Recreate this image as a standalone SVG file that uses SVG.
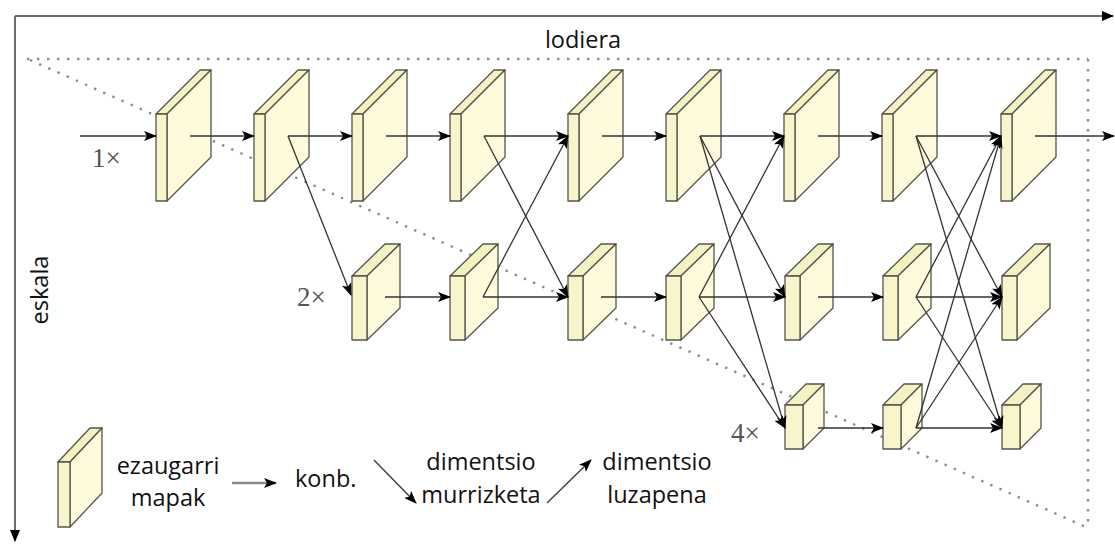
<svg xmlns="http://www.w3.org/2000/svg" width="1115" height="545" viewBox="0 0 1115 545">
  <defs>
    <style>
      .axis { stroke: #6e6e6e; stroke-width: 2; fill: none; }
      .dots { stroke: #8c8c8c; stroke-width: 2.4; stroke-dasharray: 2.4 7.6; fill: none; }
      .conn { stroke: #333; stroke-width: 1.3; fill: none; marker-end: url(#head); }
      .front { fill: #f8f5cd; stroke: #55554a; stroke-width: 1.3; stroke-linejoin: round; }
      .top { fill: #f4f1c2; stroke: #55554a; stroke-width: 1.3; stroke-linejoin: round; }
      .side { fill: #fdfbdc; stroke: #55554a; stroke-width: 1.3; stroke-linejoin: round; }
      .lbl { font-family: "Open Sans", "Liberation Sans", sans-serif; font-size: 23.5px; fill: #111; }
      .scale { font-family: "Liberation Serif", "DejaVu Serif", serif; font-size: 27px; fill: #555; }
    </style>
    <marker id="head" viewBox="0 0 13 10" refX="12" refY="5" markerWidth="13" markerHeight="10" markerUnits="userSpaceOnUse" orient="auto">
      <path d="M0,0 L13,5 L0,10 L3,5 Z" fill="#000"/>
    </marker>
    <marker id="axisHead" viewBox="0 0 12 10" refX="11" refY="5" markerWidth="12" markerHeight="10" markerUnits="userSpaceOnUse" orient="auto">
      <path d="M0,0 L12,5 L0,10 Z" fill="#000"/>
    </marker>
    <!-- feature-map slabs, origin at top-left of the front face -->
    <g id="slabL">
      <polygon class="top" points="0,0 44,-44 55,-44 11,0"/>
      <polygon class="side" points="11,0 55,-44 55,43 11,87"/>
      <rect class="front" x="0" y="0" width="11" height="87"/>
    </g>
    <g id="slabM">
      <polygon class="top" points="0,0 33,-32 48,-32 15,0"/>
      <polygon class="side" points="15,0 48,-32 48,32 15,64"/>
      <rect class="front" x="0" y="0" width="15" height="64"/>
    </g>
    <g id="slabS">
      <polygon class="top" points="0,0 21,-21 39,-21 18,0"/>
      <polygon class="side" points="18,0 39,-21 39,23 18,44"/>
      <rect class="front" x="0" y="0" width="18" height="44"/>
    </g>
    <g id="slabLegend">
      <polygon class="top" points="0,0 32,-34 44,-34 12,0"/>
      <polygon class="side" points="12,0 44,-34 44,31 12,65"/>
      <rect class="front" x="0" y="0" width="12" height="65"/>
    </g>
  </defs>

  <rect width="1115" height="545" fill="#fff"/>

  <!-- axes -->
  <g id="axes">
    <line class="axis" x1="15" y1="16" x2="1113" y2="16" marker-end="url(#axisHead)"/>
    <line class="axis" x1="15" y1="16" x2="15" y2="541" marker-end="url(#axisHead)"/>
    <text class="lbl" x="583" y="48" text-anchor="middle">lodiera</text>
    <text class="lbl" x="0" y="0" text-anchor="middle" transform="translate(48,290) rotate(-90)">eskala</text>
  </g>

  <!-- dotted triangle outline -->
  <g id="region">
    <line class="dots" x1="27" y1="59" x2="1088" y2="59"/>
    <line class="dots" x1="1088" y1="59" x2="1088" y2="527"/>
    <line class="dots" x1="30" y1="60" x2="1086" y2="527"/>
  </g>

  <!-- resolution labels -->
  <text class="scale" x="92" y="167">1×</text>
  <text class="scale" x="297" y="306">2×</text>
  <text class="scale" x="731" y="442">4×</text>

  <!-- 1x branch -->
  <g id="r1c1"><use href="#slabL" x="156" y="114"/></g>
  <g id="r1c2"><use href="#slabL" x="254" y="114"/></g>
  <g id="r1c3"><use href="#slabL" x="352" y="114"/></g>
  <g id="r1c4"><use href="#slabL" x="450" y="114"/></g>
  <g id="r1c5"><use href="#slabL" x="568" y="114"/></g>
  <g id="r1c6"><use href="#slabL" x="666" y="114"/></g>
  <g id="r1c7"><use href="#slabL" x="784" y="114"/></g>
  <g id="r1c8"><use href="#slabL" x="882" y="114"/></g>
  <g id="r1c9"><use href="#slabL" x="1001" y="114"/></g>

  <!-- 2x branch -->
  <g id="r2c1"><use href="#slabM" x="352" y="276"/></g>
  <g id="r2c2"><use href="#slabM" x="450" y="276"/></g>
  <g id="r2c3"><use href="#slabM" x="568" y="276"/></g>
  <g id="r2c4"><use href="#slabM" x="666" y="276"/></g>
  <g id="r2c5"><use href="#slabM" x="785" y="276"/></g>
  <g id="r2c6"><use href="#slabM" x="883" y="276"/></g>
  <g id="r2c7"><use href="#slabM" x="1002" y="276"/></g>

  <!-- 4x branch -->
  <g id="r3c1"><use href="#slabS" x="785" y="405"/></g>
  <g id="r3c2"><use href="#slabS" x="883" y="405"/></g>
  <g id="r3c3"><use href="#slabS" x="1002" y="405"/></g>

  <!-- connectors -->
  <g id="connectors">
    <!-- 1x -->
    <line class="conn" x1="80" y1="136" x2="156" y2="136"/>
    <line class="conn" x1="190" y1="136" x2="254" y2="136"/>
    <line class="conn" x1="288" y1="136" x2="352" y2="136"/>
    <line class="conn" x1="386" y1="136" x2="450" y2="136"/>
    <line class="conn" x1="484" y1="136" x2="568" y2="136"/>
    <line class="conn" x1="602" y1="136" x2="666" y2="136"/>
    <line class="conn" x1="700" y1="136" x2="784" y2="136"/>
    <line class="conn" x1="818" y1="136" x2="882" y2="136"/>
    <line class="conn" x1="916" y1="136" x2="1001" y2="136"/>
    <line class="conn" x1="1035" y1="136" x2="1114" y2="136"/>
    <!-- 2x -->
    <line class="conn" x1="288" y1="136" x2="351" y2="295"/>
    <line class="conn" x1="385" y1="297" x2="450" y2="297"/>
    <line class="conn" x1="483" y1="297" x2="568" y2="297"/>
    <line class="conn" x1="601" y1="297" x2="666" y2="297"/>
    <line class="conn" x1="699" y1="297" x2="785" y2="297"/>
    <line class="conn" x1="818" y1="297" x2="883" y2="297"/>
    <line class="conn" x1="916" y1="297" x2="1002" y2="297"/>
    <!-- exchange between 1x and 2x -->
    <line class="conn" x1="484" y1="136" x2="568" y2="297"/>
    <line class="conn" x1="483" y1="297" x2="568" y2="136"/>
    <!-- exchange to 4x -->
    <line class="conn" x1="700" y1="136" x2="785" y2="297"/>
    <line class="conn" x1="700" y1="136" x2="785" y2="428"/>
    <line class="conn" x1="699" y1="297" x2="784" y2="136"/>
    <line class="conn" x1="699" y1="297" x2="785" y2="428"/>
    <!-- 4x -->
    <line class="conn" x1="818" y1="428" x2="883" y2="428"/>
    <line class="conn" x1="916" y1="428" x2="1002" y2="428"/>
    <!-- final fusion -->
    <line class="conn" x1="916" y1="136" x2="1002" y2="297"/>
    <line class="conn" x1="916" y1="136" x2="1002" y2="428"/>
    <line class="conn" x1="916" y1="297" x2="1001" y2="136"/>
    <line class="conn" x1="916" y1="297" x2="1002" y2="428"/>
    <line class="conn" x1="916" y1="428" x2="1001" y2="136"/>
    <line class="conn" x1="916" y1="428" x2="1002" y2="297"/>
  </g>

  <!-- legend -->
  <g id="legend">
    <use href="#slabLegend" x="58" y="462"/>
    <text class="lbl" x="168" y="474" text-anchor="middle">ezaugarri</text>
    <text class="lbl" x="168" y="506" text-anchor="middle">mapak</text>
    <line x1="232" y1="483" x2="276" y2="483" stroke="#8a8a8a" stroke-width="2.5" marker-end="url(#head)"/>
    <text class="lbl" x="295" y="487">konb.</text>
    <line x1="374" y1="460" x2="416" y2="503" stroke="#444" stroke-width="1.5" marker-end="url(#head)"/>
    <text class="lbl" x="481" y="470" text-anchor="middle">dimentsio</text>
    <text class="lbl" x="481" y="503" text-anchor="middle">murrizketa</text>
    <line x1="547" y1="503" x2="591" y2="460" stroke="#444" stroke-width="1.5" marker-end="url(#head)"/>
    <text class="lbl" x="657" y="470" text-anchor="middle">dimentsio</text>
    <text class="lbl" x="657" y="503" text-anchor="middle">luzapena</text>
  </g>
</svg>
